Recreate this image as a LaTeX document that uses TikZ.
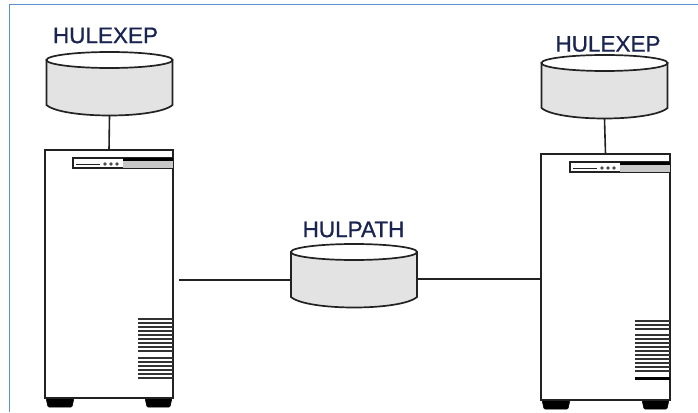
\documentclass[tikz,border=0pt]{standalone}
\usepackage{fontspec}
\setmainfont{Liberation Sans}
\newfontfamily\labfont[FakeBold=0.9]{Liberation Sans}
\definecolor{frameblue}{HTML}{5B8FD0}
\definecolor{labelnavy}{HTML}{1A2450}
\definecolor{cylgray}{HTML}{E3E3E3}
\definecolor{linedark}{HTML}{222222}
\definecolor{panelgray}{HTML}{C8C8C8}
\tikzset{
  px/.style={x=1pt,y=-1pt},
  lab/.style={font=\labfont\fontsize{22.5}{24}\selectfont,text=labelnavy,inner sep=0pt,anchor=center},
  wire/.style={draw=linedark,line width=1.6pt},
  outline/.style={draw=linedark,line width=1.7pt},
  vent/.style={draw=black!80,line width=2pt},
  foot/.style={fill=black,draw=black,line width=.5pt,rounded corners=1pt},
}
% #1 name, #2 left x, #3 ellipse centre y
\newcommand{\cyldisk}[3]{%
  \path[fill=cylgray,outline] (#2,#3) -- (#2,#3+45)
     .. controls (#2+16,#3+59) and (#2+110,#3+59) .. (#2+126,#3+45) -- (#2+126,#3) -- cycle;
  \path[fill=white,outline] (#2+63,#3) ellipse [x radius=63,y radius=8];
  \node[inner sep=0pt,outer sep=0pt,minimum width=126pt,minimum height=62pt] (#1) at (#2+63,#3+25) {};
}
% #1 name, #2 left x, #3 top y, #4 right x, #5 bottom y
\newcommand{\towerbox}[5]{%
  \path[foot] (#2+1,#5) -- (#2+3,#5+9) -- (#2+27,#5+9) -- (#2+29,#5) -- cycle;
  \path[foot] (#4-28,#5) -- (#4-26,#5+9) -- (#4-3,#5+9) -- (#4-1,#5) -- cycle;
  \path[fill=white,outline] (#2,#3) rectangle (#4,#5);
  \node[inner sep=0pt,outer sep=0pt,minimum width=#4pt-#2pt,minimum height=#5pt-#3pt] (#1) at ({(#2+#4)/2},{(#3+#5)/2}) {};
  \path[fill=white,draw=linedark,line width=1.2pt] (#4-100,#3+8) rectangle (#4,#3+18);
  \path[fill=panelgray] (#4-50,#3+8) rectangle (#4,#3+18);
  \path[fill=black] (#4-50,#3+8) rectangle (#4,#3+11);
  \draw[linedark,line width=.9pt] (#4-97,#3+14) -- (#4-73,#3+14);
  \foreach \d in {0,6,12} \path[fill=black!70] (#4-68+\d,#3+14) circle (1.9);
}
\begin{document}
\begin{tikzpicture}[px]
\useasboundingbox (0,0) rectangle (698,412);
\path[fill=white] (0,0) rectangle (698,412);
\draw[frameblue,line width=1.5pt] (9.5,412) -- (9.5,4.5) -- (698,4.5);

\cyldisk{dbl}{46.5}{60}
\cyldisk{dbr}{541.5}{63}
\cyldisk{dbc}{291}{252}

\towerbox{srvl}{45}{150}{173}{398}
\towerbox{srvr}{541}{154}{670}{400}

% vents left
\foreach \y in {318.5,322.5,...,351} \draw[vent] (138,\y) -- (173,\y);
\foreach \y in {357.5,361.5,...,378} \draw[vent] (138,\y) -- (173,\y);
% vents right
\foreach \y in {320.5,324.5,328.5} \draw[vent] (635,\y) -- (670,\y);
\foreach \y in {334.5,338.5,...,371} \draw[vent] (635,\y) -- (670,\y);
\draw[black,line width=3pt] (635,378) -- (670,378);

\node[lab] (ll) at (105.5,35.5) {HULEXEP};
\node[lab] (lr) at (608,44) {HULEXEP};
\node[lab] (lc) at (353.5,229.5) {HULPATH};

\coordinate (wirestart) at (179,280);
\draw[wire] (dbl.south) -- (srvl.north);
\draw[wire] (dbr.south) -- (srvr.north);
\draw[wire] (wirestart) -- (dbc.west |- wirestart);
\draw[wire] (dbc.east |- 0,279) -- (srvr.west |- 0,279);
\end{tikzpicture}
\end{document}
